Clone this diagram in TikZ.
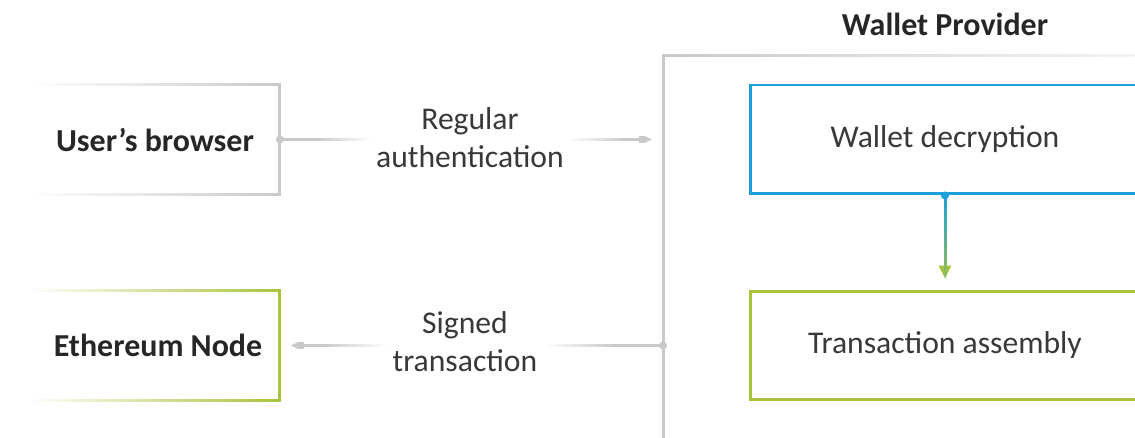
\documentclass[tikz,border=0pt]{standalone}
\usepackage{fontspec}
\setmainfont{Carlito}
\usepackage{tikz}
\usetikzlibrary{arrows.meta,fadings}
\definecolor{linegray}{HTML}{C9C9C9}
\definecolor{walletblue}{HTML}{1CA0DB}
\definecolor{nodegreen}{HTML}{A6C33B}
\definecolor{labelgray}{HTML}{383838}
\pgfdeclarehorizontalshading{ramp in}{100bp}{color(0bp)=(black); color(25bp)=(black); color(55bp)=(white); color(100bp)=(white)}
\pgfdeclarehorizontalshading{ramp out}{100bp}{color(0bp)=(white); color(45bp)=(white); color(75bp)=(black); color(100bp)=(black)}
\tikzfading[name=fade in east,left color=transparent!100,right color=transparent!0]
\tikzfading[name=link in east,shading=ramp in]
\tikzfading[name=link out east,shading=ramp out]
\tikzfading[name=fade provider,left color=transparent!0,right color=transparent!80]
\tikzfading[name=fade out south,top color=transparent!0,bottom color=transparent!100]

\begin{document}
\begin{tikzpicture}[x=0.02cm,y=-0.02cm,
    edge/.style={line width=1.7pt},
    headline/.style={font=\fontsize{18.2}{21}\selectfont\bfseries,text=black!85},
    caption/.style={font=\fontsize{18}{21.5}\selectfont,text=labelgray,align=center},
    sidebox/.style={headline,minimum width=49.8mm,minimum height=21.8mm},
    stepbox/.style={caption,edge,minimum width=78mm,minimum height=21.8mm},
    tip/.style={-{Triangle[length=2.6mm,width=2.4mm]},shorten >=2.2mm}]
  \path[use as bounding box,clip] (0,0) rectangle (1135,438);
  % nodes
  \node[sidebox] (browser) at (155,139.5) {User’s browser};
  \node[sidebox] (eth) at (158,345.5) {Ethereum Node};
  \node[headline] (provider) at (945,24) {Wallet Provider};
  \node[stepbox,draw=walletblue] (decrypt) at (945,139.5) {Wallet decryption};
  \node[stepbox,draw=nodegreen] (assembly) at (945,345.5) {Transaction assembly};
  \node[caption] (auth) at (470,138) {Regular\\authentication};
  \node[caption] (signed) at (465,342) {Signed\\transaction};
  \coordinate (wp nw) at (663,55);
  \coordinate (wp sw) at (663,445);
  \coordinate (wp ne) at (1135,55);
  % frames
  \draw[edge,linegray,path fading=fade in east] (browser.north west) -- (browser.north east) -- (browser.south east) -- (browser.south west);
  \draw[edge,nodegreen,path fading=fade in east] (eth.north west -| browser.west) -- (eth.north east -| browser.east) -- (eth.south east -| browser.east) -- (eth.south west -| browser.west);
  \draw[edge,linegray,path fading=fade provider] (wp sw) -- (wp nw) -- (wp ne);
  % connectors
  \draw[edge,linegray,path fading=link out east] (browser.east) -- (auth.west |- browser.east);
  \draw[edge,linegray,tip,path fading=link in east] (auth.east |- browser.east) -- (wp nw |- browser.east);
  \fill[linegray] (browser.east) circle (4);
  \draw[edge,linegray,path fading=link in east] (wp nw |- assembly.west) -- (signed.east |- assembly.west);
  \draw[edge,linegray,tip,path fading=link out east] (signed.west |- assembly.west) -- (eth.east -| browser.east);
  \fill[linegray] (wp nw |- assembly.west) circle (4);
  \draw[edge,nodegreen,tip] (decrypt.south) -- (assembly.north);
  \draw[edge,walletblue,shorten >=2.2mm,path fading=fade out south] (decrypt.south) -- (assembly.north);
  \fill[walletblue] (decrypt.south) circle (4);
\end{tikzpicture}
\end{document}
